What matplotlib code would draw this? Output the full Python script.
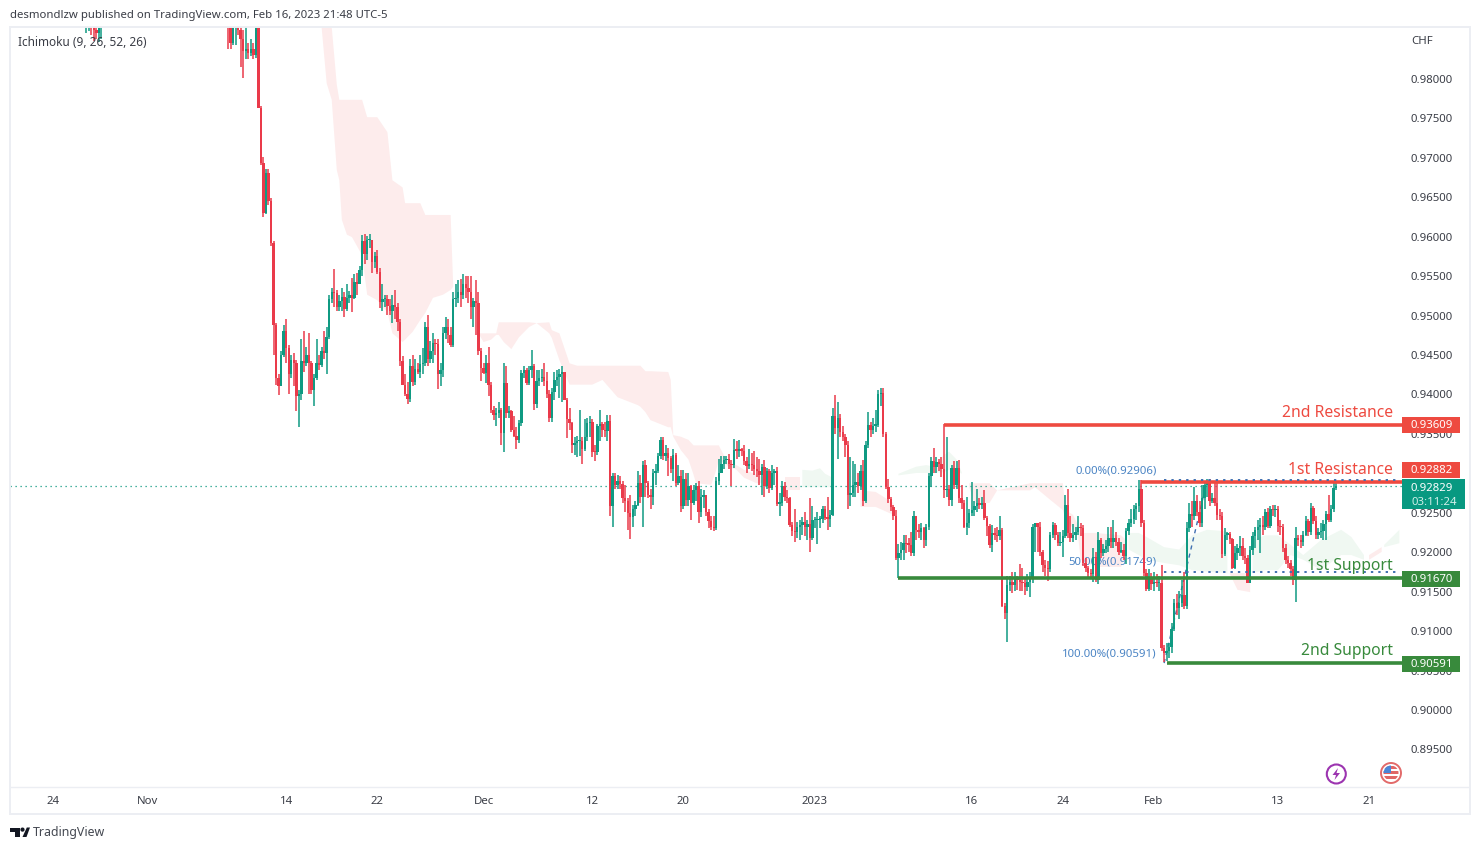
import matplotlib
matplotlib.use("Agg")
import matplotlib.pyplot as plt
from matplotlib.patches import Circle, Polygon, Rectangle
from matplotlib.transforms import ScaledTranslation
import numpy as np

W, H = 1479, 850
BAR_PX = 2.53
BAR0_PX = 228
nan = np.nan

# 4h candles, prices in 1e-4 CHF. opens follow the previous close
early_bars = [-56, -55, -54, -53, -52, -51, -50]
early_closes = [9880, 9885, 9868, 9862, 9858, 9865, 9880]
early_highs = [9890, 9895, 9890, 9880, 9875, 9885, 9895]
early_lows = [9858, 9860, 9855, 9848, 9850, 9846, 9850]

closes = [
    9870, 9845, 9880, 9885, 9862, 9850, 9835, 9838, 9832, 9838, 9830, 9880, 9763, 9693, 9630, 9680, 9645, 9592,
    9487, 9420, 9410, 9450, 9480, 9459, 9425, 9443, 9440, 9397, 9400, 9442, 9440, 9450, 9440, 9405, 9420, 9440,
    9437, 9454, 9452, 9472, 9521, 9530, 9528, 9511, 9518, 9523, 9508, 9522, 9525, 9522, 9542, 9540, 9557, 9594,
    9578, 9595, 9595, 9567, 9575, 9555, 9517, 9520, 9520, 9512, 9505, 9513, 9510, 9492, 9442, 9412, 9400, 9394,
    9435, 9415, 9432, 9428, 9438, 9440, 9485, 9445, 9455, 9465, 9463, 9425, 9430, 9478, 9485, 9475, 9462, 9520,
    9522, 9530, 9525, 9540, 9535, 9530, 9510, 9518, 9515, 9454, 9433, 9427, 9439, 9412, 9380, 9374, 9376, 9380,
    9351, 9414, 9376, 9378, 9355, 9347, 9342, 9363, 9427, 9430, 9414, 9431, 9435, 9387, 9416, 9420, 9422, 9417,
    9400, 9370, 9403, 9418, 9422, 9426, 9428, 9393, 9368, 9363, 9336, 9338, 9340, 9341, 9330, 9346, 9363, 9365,
    9327, 9326, 9359, 9362, 9355, 9353, 9366, 9258, 9296, 9285, 9290, 9286, 9268, 9264, 9249, 9244, 9254, 9260,
    9287, 9270, 9310, 9287, 9272, 9270, 9300, 9303, 9321, 9342, 9321, 9325, 9319, 9305, 9323, 9287, 9296, 9258,
    9292, 9266, 9283, 9262, 9278, 9283, 9251, 9270, 9272, 9250, 9239, 9232, 9230, 9290, 9300, 9311, 9316, 9318,
    9312, 9310, 9329, 9328, 9329, 9328, 9315, 9309, 9311, 9310, 9305, 9302, 9298, 9308, 9283, 9302, 9281, 9300,
    9302, 9261, 9262, 9283, 9270, 9268, 9234, 9226, 9225, 9232, 9234, 9238, 9232, 9235, 9217, 9240, 9240, 9241,
    9242, 9255, 9243, 9242, 9247, 9372, 9357, 9370, 9352, 9345, 9335, 9272, 9275, 9285, 9288, 9283, 9302, 9265,
    9336, 9361, 9355, 9360, 9361, 9400, 9402, 9350, 9282, 9267, 9257, 9246, 9192, 9198, 9202, 9211, 9210, 9209,
    9198, 9245, 9228, 9225, 9230, 9215, 9231, 9296, 9315, 9308, 9314, 9312, 9305, 9278, 9280, 9266, 9306, 9285,
    9306, 9268, 9262, 9232, 9236, 9249, 9253, 9258, 9262, 9260, 9262, 9243, 9233, 9209, 9224, 9221, 9220, 9228,
    9131, 9122, 9158, 9162, 9158, 9168, 9165, 9162, 9160, 9155, 9162, 9168, 9232, 9236, 9232, 9200, 9184, 9180,
    9178, 9221, 9234, 9221, 9211, 9213, 9220, 9260, 9224, 9217, 9222, 9225, 9232, 9230, 9186, 9180, 9173, 9172,
    9194, 9165, 9215, 9198, 9204, 9208, 9217, 9212, 9218, 9213, 9200, 9203, 9195, 9226, 9236, 9242, 9255, 9258,
    9280, 9237, 9173, 9153, 9167, 9159, 9162, 9160, 9160, 9078, 9072, 9075, 9079, 9102, 9135, 9129, 9135, 9146,
    9131, 9230, 9248, 9245, 9264, 9251, 9237, 9268, 9285, 9287, 9264, 9268, 9262, 9247, 9245, 9197, 9222, 9223,
    9216, 9180, 9198, 9205, 9207, 9195, 9192, 9161, 9202, 9220, 9228, 9232, 9233, 9232, 9250, 9233, 9254, 9253,
    9255, 9233, 9231, 9205, 9190, 9186, 9178, 9164, 9218, 9215, 9212, 9222, 9239, 9225, 9256, 9239, 9222, 9225,
    9226, 9235, 9248, 9241, 9254, 9281, 9283,
]
highs = [
    9890, 9885, 9890, 9895, 9890, 9870, 9862, 9866, 9845, 9850, 9845, 9895, 9890, 9765, 9700, 9685, 9685, 9648,
    9594, 9490, 9425, 9455, 9487, 9495, 9462, 9450, 9452, 9443, 9405, 9470, 9480, 9460, 9478, 9442, 9425, 9470,
    9450, 9460, 9480, 9485, 9525, 9535, 9558, 9532, 9525, 9535, 9530, 9539, 9531, 9547, 9552, 9553, 9562, 9602,
    9603, 9600, 9603, 9595, 9580, 9583, 9560, 9540, 9525, 9525, 9520, 9525, 9532, 9515, 9495, 9448, 9425, 9415,
    9445, 9450, 9445, 9440, 9450, 9458, 9492, 9500, 9467, 9478, 9470, 9470, 9440, 9485, 9498, 9495, 9485, 9530,
    9539, 9545, 9546, 9552, 9550, 9550, 9550, 9522, 9545, 9530, 9458, 9440, 9450, 9460, 9415, 9385, 9382, 9390,
    9382, 9440, 9436, 9385, 9380, 9372, 9358, 9367, 9430, 9436, 9433, 9436, 9456, 9438, 9430, 9430, 9432, 9440,
    9428, 9405, 9408, 9428, 9430, 9432, 9435, 9428, 9395, 9383, 9365, 9345, 9347, 9380, 9345, 9368, 9370, 9372,
    9368, 9335, 9362, 9380, 9365, 9365, 9373, 9373, 9300, 9300, 9298, 9296, 9290, 9285, 9268, 9272, 9260, 9265,
    9303, 9298, 9315, 9317, 9290, 9280, 9305, 9312, 9325, 9345, 9345, 9335, 9332, 9322, 9330, 9325, 9310, 9304,
    9304, 9300, 9300, 9285, 9285, 9287, 9290, 9280, 9278, 9272, 9255, 9245, 9245, 9295, 9318, 9322, 9322, 9322,
    9324, 9316, 9343, 9340, 9342, 9332, 9335, 9320, 9330, 9325, 9328, 9320, 9318, 9312, 9316, 9306, 9305, 9310,
    9305, 9308, 9275, 9290, 9288, 9278, 9270, 9238, 9254, 9238, 9240, 9244, 9250, 9240, 9268, 9258, 9244, 9250,
    9246, 9258, 9258, 9270, 9253, 9382, 9399, 9390, 9375, 9360, 9350, 9340, 9320, 9315, 9312, 9300, 9310, 9317,
    9340, 9377, 9365, 9370, 9380, 9405, 9408, 9408, 9352, 9293, 9270, 9260, 9253, 9210, 9212, 9222, 9222, 9218,
    9225, 9252, 9245, 9235, 9236, 9232, 9235, 9300, 9320, 9332, 9320, 9318, 9320, 9362, 9345, 9285, 9310, 9315,
    9315, 9316, 9285, 9266, 9270, 9255, 9288, 9265, 9280, 9268, 9270, 9278, 9245, 9235, 9234, 9230, 9232, 9245,
    9230, 9135, 9170, 9170, 9175, 9175, 9170, 9185, 9180, 9168, 9172, 9175, 9235, 9237, 9236, 9238, 9202, 9190,
    9188, 9225, 9238, 9236, 9225, 9225, 9228, 9272, 9280, 9245, 9235, 9232, 9245, 9236, 9234, 9192, 9182, 9178,
    9205, 9200, 9225, 9218, 9210, 9215, 9232, 9232, 9240, 9225, 9218, 9212, 9210, 9230, 9242, 9255, 9260, 9262,
    9291, 9291, 9240, 9178, 9178, 9173, 9175, 9172, 9170, 9183, 9082, 9085, 9085, 9110, 9140, 9147, 9150, 9165,
    9175, 9238, 9262, 9265, 9282, 9272, 9265, 9285, 9290, 9292, 9292, 9275, 9287, 9288, 9255, 9250, 9230, 9225,
    9225, 9218, 9208, 9210, 9220, 9218, 9205, 9196, 9208, 9225, 9232, 9240, 9243, 9245, 9254, 9256, 9258, 9260,
    9260, 9258, 9240, 9235, 9210, 9195, 9190, 9182, 9232, 9222, 9222, 9226, 9245, 9242, 9262, 9258, 9245, 9230,
    9236, 9240, 9252, 9272, 9260, 9287, 9288,
]
lows = [
    9838, 9838, 9843, 9843, 9855, 9815, 9800, 9825, 9825, 9828, 9825, 9826, 9763, 9690, 9625, 9628, 9640, 9588,
    9450, 9412, 9399, 9410, 9447, 9440, 9400, 9420, 9410, 9378, 9358, 9392, 9428, 9435, 9400, 9400, 9385, 9418,
    9430, 9434, 9445, 9425, 9470, 9515, 9510, 9505, 9505, 9505, 9498, 9505, 9515, 9504, 9520, 9525, 9540, 9550,
    9565, 9570, 9585, 9553, 9560, 9552, 9509, 9505, 9510, 9500, 9500, 9490, 9495, 9480, 9435, 9412, 9398, 9388,
    9390, 9410, 9412, 9425, 9420, 9425, 9435, 9435, 9440, 9440, 9450, 9407, 9410, 9422, 9470, 9465, 9460, 9460,
    9510, 9515, 9510, 9520, 9522, 9515, 9495, 9485, 9475, 9450, 9416, 9425, 9414, 9397, 9376, 9367, 9360, 9370,
    9335, 9327, 9370, 9370, 9352, 9345, 9331, 9338, 9360, 9420, 9412, 9411, 9420, 9380, 9382, 9410, 9415, 9410,
    9395, 9365, 9365, 9393, 9410, 9395, 9390, 9392, 9344, 9355, 9325, 9323, 9320, 9321, 9312, 9328, 9340, 9345,
    9320, 9315, 9323, 9340, 9345, 9345, 9340, 9245, 9232, 9280, 9280, 9280, 9262, 9250, 9228, 9216, 9232, 9245,
    9258, 9262, 9232, 9270, 9268, 9254, 9260, 9285, 9300, 9318, 9316, 9315, 9296, 9300, 9290, 9283, 9285, 9250,
    9255, 9258, 9258, 9240, 9260, 9265, 9237, 9244, 9256, 9245, 9230, 9228, 9226, 9228, 9285, 9300, 9305, 9312,
    9305, 9284, 9306, 9318, 9320, 9322, 9310, 9300, 9305, 9303, 9298, 9295, 9285, 9272, 9270, 9280, 9275, 9278,
    9285, 9258, 9245, 9258, 9265, 9262, 9232, 9220, 9212, 9217, 9215, 9222, 9220, 9215, 9200, 9215, 9230, 9210,
    9230, 9236, 9240, 9228, 9232, 9245, 9350, 9318, 9345, 9340, 9320, 9254, 9258, 9270, 9270, 9275, 9278, 9258,
    9262, 9332, 9345, 9350, 9352, 9358, 9385, 9345, 9280, 9262, 9252, 9240, 9190, 9167, 9190, 9190, 9198, 9200,
    9195, 9195, 9215, 9218, 9215, 9205, 9208, 9228, 9282, 9300, 9300, 9303, 9295, 9268, 9270, 9258, 9258, 9280,
    9280, 9262, 9255, 9230, 9222, 9230, 9245, 9245, 9250, 9255, 9254, 9240, 9220, 9205, 9200, 9215, 9212, 9215,
    9130, 9115, 9086, 9150, 9148, 9150, 9152, 9150, 9151, 9145, 9150, 9143, 9160, 9200, 9200, 9195, 9175, 9170,
    9163, 9175, 9218, 9215, 9208, 9207, 9193, 9218, 9218, 9212, 9213, 9215, 9222, 9220, 9182, 9175, 9168, 9168,
    9162, 9162, 9159, 9192, 9195, 9198, 9200, 9205, 9205, 9208, 9196, 9198, 9190, 9185, 9222, 9232, 9235, 9240,
    9250, 9232, 9170, 9150, 9150, 9152, 9150, 9155, 9150, 9075, 9061, 9062, 9065, 9072, 9100, 9120, 9115, 9130,
    9128, 9128, 9225, 9232, 9240, 9245, 9232, 9232, 9255, 9270, 9258, 9262, 9258, 9240, 9240, 9192, 9195, 9215,
    9210, 9178, 9178, 9190, 9195, 9190, 9185, 9160, 9160, 9196, 9205, 9215, 9199, 9222, 9228, 9230, 9230, 9245,
    9244, 9225, 9222, 9200, 9185, 9180, 9170, 9158, 9137, 9207, 9205, 9208, 9220, 9220, 9222, 9235, 9216, 9216,
    9218, 9215, 9215, 9238, 9238, 9250, 9278,
]

# ichimoku cloud, nan separates the twists
red_cloud_bars = [
    37, 39, 41, 43, 44, 45, 47, 49, 53, 55, 59, 63, 65, 69, 70, 73, 76, 78, 81, 85, 88, 89, 90,
    99, 101, 104, 106, 107, 109, 112, 115, 119, 122, 127, 128, 131, 135, 138, 144, 148, 154, 162, 163, 165, 167,
    174, 175, 176, 179, 182, 184, 185, 191, 193, 194, 198, 201, 204, 209, 212, 213,
    220, 226, 227,
    250, 256, 263, 264,
    293, 295, 301, 304, 317, 319, 325, 330, 331, 334, 336, 337, 343, 353, 355, 356,
    396, 399, 404, 405,
    451, 456, 457,
]
red_cloud_top = [
    9865, 9880, 9865, 9792, 9773, 9773, 9773, 9773, 9773, 9751, 9751, 9732, 9671, 9662, 9642, 9642, 9642, 9627, 9627, 9627, 9627, 9538, nan,
    9477, 9477, 9477, 9477, 9491, 9491, 9491, 9491, 9491, 9490, 9491, 9481, 9477, 9439, 9436, 9436, 9436, 9436, 9436, 9436, 9429, 9429,
    9428, 9418, 9348, 9346, 9342, 9335, 9335, 9335, 9335, 9335, 9310, 9310, 9304, 9298, 9294, nan,
    9295, 9295, nan,
    9278, 9276, 9262, nan,
    9287, 9287, 9287, 9278, 9287, 9287, 9287, 9287, 9253, 9247, 9234, 9224, 9224, 9221, 9215, nan,
    9173, 9173, 9173, nan,
    9196, 9206, nan,
]
red_cloud_bottom = [
    9865, 9794, 9773, 9684, 9671, 9621, 9602, 9599, 9576, 9526, 9519, 9504, 9477, 9466, 9469, 9479, 9494, 9503, 9522, 9526, 9532, 9536, nan,
    9477, 9466, 9469, 9475, 9475, 9466, 9457, 9472, 9485, 9490, 9477, 9471, 9443, 9412, 9412, 9412, 9418, 9396, 9386, 9384, 9377, 9367,
    9358, 9358, 9346, 9329, 9317, 9298, 9287, 9285, 9304, 9317, 9308, 9304, 9294, 9287, 9287, nan,
    9278, 9278, nan,
    9257, 9257, 9247, nan,
    9282, 9262, 9262, 9278, 9278, 9282, 9266, 9253, 9241, 9230, 9221, 9190, 9181, 9181, 9196, nan,
    9172, 9152, 9149, nan,
    9190, 9200, nan,
]
green_cloud_bars = [
    227, 231, 234, 236, 239, 240,
    265, 272, 276, 279, 283, 285, 288, 290, 291,
    356, 360, 363, 370, 376, 381, 387, 395, 396,
    405, 410, 415, 420, 425, 432, 440, 444, 449, 450,
    457, 463, 464,
]
green_cloud_top = [
    9304, 9303, 9306, 9299, 9294, nan,
    9299, 9308, 9310, 9308, 9323, 9327, 9317, 9301, nan,
    9224, 9224, 9219, 9206, 9203, 9221, 9228, 9226, nan,
    9215, 9221, 9221, 9209, 9196, 9215, 9228, 9219, 9196, nan,
    9209, 9228, nan,
]
green_cloud_bottom = [
    9282, 9282, 9282, 9282, 9282, nan,
    9297, 9300, 9300, 9300, 9301, 9304, 9304, 9299, nan,
    9203, 9196, 9190, 9186, 9183, 9177, 9175, 9173, nan,
    9173, 9177, 9177, 9196, 9190, 9177, 9196, 9196, 9190, nan,
    9206, 9211, nan,
]

# 0.93000 stays hidden behind the 0.92882 tag in the picture, so it is not listed
price_ticks = [0.895, 0.90, 0.905, 0.91, 0.915, 0.92, 0.925, 0.935, 0.94, 0.945,
               0.95, 0.955, 0.96, 0.965, 0.97, 0.975, 0.98]
time_tick_bars = [-69, -32, 23, 59, 101, 144, 180, 232, 294, 330, 366, 415, 451]
time_tick_labels = ["24", "Nov", "14", "22", "Dec", "12", "20", "2023", "16", "24", "Feb", "13", "21"]

last_price = 0.92829
level_names = ["2nd Resistance", "1st Resistance", "1st Support", "2nd Support"]
level_values = [0.93609, 0.92882, 0.91670, 0.90591]
level_start_bars = [283, 361, 265, 371]
fib_values = [0.92906, 0.91749, 0.90591]
fib_labels = ["0.00%(0.92906)", "50.00%(0.91749)", "100.00%(0.90591)"]
fib_start_bar = 370
fib_end_bar = 387

UP = "#0f9a82"
DOWN = "#ea3a4a"
RED = "#ee4a40"
GREEN = "#388a3c"
FIB = "#4a84c4"
TEXT = "#3a3d46"
FONT = "Noto Sans"

plt.rcParams["font.family"] = FONT


def px_rect(left, top, right, bottom):
    return [left / W, 1 - bottom / H, (right - left) / W, (bottom - top) / H]


def draw_candles(ax, bars, opens, closes_, highs_, lows_):
    bars = np.asarray(bars, dtype=float)
    o = np.asarray(opens) / 1e4
    c = np.asarray(closes_) / 1e4
    hi = np.asarray(highs_) / 1e4
    lo = np.asarray(lows_) / 1e4
    colors = np.where(c >= o, UP, DOWN)
    ax.vlines(bars, lo, hi, colors=colors, linewidth=1.1, zorder=4)
    ax.bar(bars, np.maximum(np.abs(c - o), 0.00018), bottom=np.minimum(o, c), width=0.95,
           color=colors, linewidth=0, zorder=4)


fig = plt.figure(figsize=(W / 100, H / 100), dpi=100, facecolor="white")
ax = fig.add_axes(px_rect(10, 27, 1403, 787))
ax.set_xlim((10 - BAR0_PX) / BAR_PX, (1403 - BAR0_PX) / BAR_PX)
ax.set_ylim(0.98 - (787 - 78.5) / 7890, 0.98 + (78.5 - 27) / 7890)
for s in ax.spines.values():
    s.set_visible(False)
ax.yaxis.tick_right()
ax.set_yticks(price_ticks)
ax.set_yticklabels([f"{p:.5f}" for p in price_ticks], fontsize=8.2, color=TEXT)
ax.tick_params(axis="y", length=0, pad=5.2)
for lab in ax.get_yticklabels():
    lab.set_transform(lab.get_transform() + ScaledTranslation(0, -0.003, fig.dpi_scale_trans))
ax.set_xticks(time_tick_bars)
ax.set_xticklabels(time_tick_labels, fontsize=8.2, color=TEXT)
ax.tick_params(axis="x", length=0, pad=6.7)
ax.get_xticklabels()[time_tick_labels.index("2023")].set_fontweight("bold")

ax.fill_between(red_cloud_bars, np.array(red_cloud_bottom) / 1e4, np.array(red_cloud_top) / 1e4,
                color="#fdecec", linewidth=0, zorder=1)
ax.fill_between(green_cloud_bars, np.array(green_cloud_bottom) / 1e4, np.array(green_cloud_top) / 1e4,
                color="#f0f8f2", linewidth=0, zorder=1)

right_bar = ax.get_xlim()[1]
ax.axhline(last_price, color=UP, linewidth=0.9, linestyle=(0, (1, 3)), zorder=2)

# fib retracement, text sits under the candles
for v, label in zip(fib_values, fib_labels):
    ax.text(fib_start_bar - 3, v + 0.0012, label, ha="right", va="center", fontsize=8.2, color=FIB, zorder=2)
for v in fib_values[:2]:
    ax.plot([fib_start_bar, right_bar - 1], [v, v], color="#3f6fb0", linewidth=1.4,
            linestyle=(0, (1.2, 2.6)), zorder=6)
ax.plot([fib_start_bar, fib_end_bar], [fib_values[2], fib_values[0]], color="#3f6fb0", linewidth=1,
        linestyle=(0, (3, 3)), zorder=3)

for name, v, start in zip(level_names, level_values, level_start_bars):
    color = RED if "Resistance" in name else GREEN
    ax.plot([start, right_bar], [v, v], color=color, linewidth=2.6, solid_capstyle="butt", zorder=5)
    ax.text(right_bar - 4, v + 0.0015, name, ha="right", va="center", fontsize=11.3, color=color,
            fontweight="bold", zorder=7)

draw_candles(ax, early_bars, [9870] + early_closes[:-1], early_closes, early_highs, early_lows)
draw_candles(ax, np.arange(len(closes)), [9880] + closes[:-1], closes, highs, lows)

# page furniture in pixel coordinates
ov = fig.add_axes([0, 0, 1, 1], zorder=5)
ov.set_xlim(0, W)
ov.set_ylim(H, 0)
ov.axis("off")
ov.patch.set_alpha(0)

ov.add_patch(Rectangle((10, 27), 1459.5, 787, fc="none", ec="#eceef3", lw=1.4))
ov.plot([10, 1468], [787, 787], color="#eceef3", lw=1)
ov.text(10, 15.5, "desmondlzw published on TradingView.com, Feb 16, 2023 21:48 UTC-5", fontsize=8.2,
        color=TEXT, va="center")
ov.text(18, 42.5, "Ichimoku (9, 26, 52, 26)", fontsize=8.5, color=TEXT, va="center")
ov.text(1411, 41.5, "CHF", fontsize=8.2, color=TEXT, va="center")

tag_centers = [425, 470, 578.5, 663.5]
for v, yc in zip(level_values, tag_centers):
    color = RED if v > last_price else GREEN
    ov.add_patch(Rectangle((1402, yc - 8), 58, 16, fc=color, ec="none"))
    ov.text(1432, yc + 0.7, f"{v:.5f}", color="white", fontsize=8.2, fontweight="bold", ha="center", va="center")
ov.add_patch(Rectangle((1402, 479), 62.5, 30, fc="#089981", ec="none"))
ov.text(1432, 488, f"{last_price:.5f}", color="white", fontsize=8.2, fontweight="bold", ha="center", va="center")
ov.text(1434, 502, "03:11:24", color="#d0efe8", fontsize=8.2, ha="center", va="center")

# lightning icon
ov.add_patch(Circle((1336.3, 774), 9.5, fc="white", ec="#9c34b0", lw=1.5))
ov.add_patch(Polygon([(1338, 768), (1332.5, 775), (1336, 775), (1334.5, 780), (1340, 773), (1336.5, 773)],
                     fc="#9c34b0", ec="none"))

# US flag icon, cut off by the price scale
ring = Circle((1391, 773), 10, fc="white", ec="#e26a6a", lw=1.4)
ov.add_patch(ring)
inner = Circle((1391, 773), 7.5, transform=ov.transData)
for top in [766, 771, 776]:
    st = ov.add_patch(Rectangle((1383, top), 16, 2.6, fc="#e06666", ec="none"))
    st.set_clip_path(inner)
st = ov.add_patch(Rectangle((1383, 765), 8, 7.5, fc="#4a86d8", ec="none"))
st.set_clip_path(inner)
ov.add_patch(Rectangle((1402.5, 760), 8, 26, fc="white", ec="none"))

# TradingView logo
ov.add_patch(Polygon([(10, 827.5), (20, 827.5), (20, 837), (14.5, 837), (14.5, 831.5), (10, 831.5)],
                     fc="#131722", ec="none"))
ov.add_patch(Circle((22.5, 829.6), 2.1, fc="#131722", ec="none"))
ov.add_patch(Polygon([(22.5, 837), (26.8, 827.5), (30, 827.5), (26.5, 837)], fc="#131722", ec="none"))
ov.text(33, 832.5, "TradingView", fontsize=8.95, color="#444851", va="center")

fig.savefig("out.png", dpi=100)
